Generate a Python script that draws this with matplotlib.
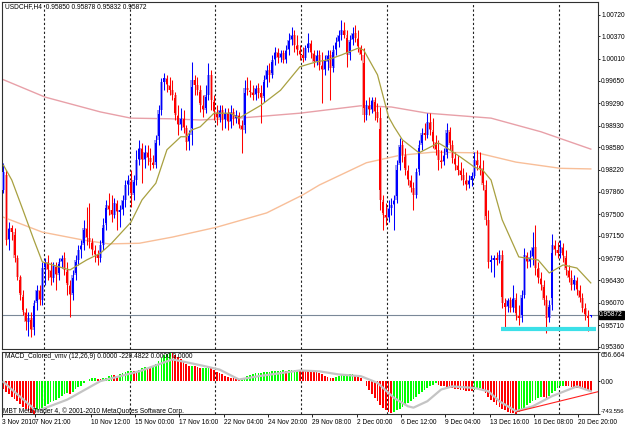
import numpy as np
import matplotlib
matplotlib.use("Agg")
import matplotlib.pyplot as plt
from matplotlib.transforms import blended_transform_factory

plt.rcParams['font.family'] = ['Liberation Sans', 'DejaVu Sans']
FS = 4.8

# ---------------- data ----------------
opens = [0.9789,0.9813,0.9708,0.9728,0.9721,0.9679,0.9648,0.9619,0.9592,0.9576,
0.9582,0.9563,0.9607,0.9628,0.9611,0.9663,0.9673,0.9660,0.9647,0.9666,
0.9652,0.9673,0.9679,0.9660,0.9636,0.9619,0.9652,0.9676,0.9692,0.9700,
0.9728,0.9711,0.9705,0.9692,0.9684,0.9679,0.9700,0.9732,0.9765,0.9757,
0.9749,0.9768,0.9753,0.9757,0.9773,0.9797,0.9805,0.9781,0.9805,0.9837,
0.9857,0.9837,0.9850,0.9841,0.9834,0.9829,0.9870,0.9918,0.9963,0.9970,
0.9958,0.9950,0.9942,0.9910,0.9894,0.9905,0.9889,0.9866,0.9878,0.9967,
0.9958,0.9950,0.9926,0.9918,0.9942,0.9975,0.9934,0.9915,0.9905,0.9918,
0.9902,0.9913,0.9899,0.9915,0.9905,0.9910,0.9894,0.9886,0.9954,0.9950,
0.9947,0.9942,0.9954,0.9946,0.9938,0.9967,0.9983,0.9975,0.9999,1.0012,
1.0002,1.0010,0.9999,1.0015,1.0031,1.0039,1.0023,1.0015,1.0007,1.0002,
1.0018,1.0026,1.0010,0.9996,1.0007,0.9991,0.9983,0.9996,1.0007,0.9986,
1.0015,1.0028,1.0039,1.0047,1.0039,1.0007,1.0031,1.0042,1.0034,1.0020,
1.0007,0.9910,0.9926,0.9918,0.9934,0.9915,0.9905,0.9773,0.9749,0.9744,
0.9760,0.9765,0.9773,0.9829,0.9862,0.9845,0.9821,0.9805,0.9792,0.9781,
0.9818,0.9862,0.9881,0.9878,0.9899,0.9886,0.9866,0.9854,0.9837,0.9834,
0.9845,0.9886,0.9862,0.9841,0.9829,0.9821,0.9813,0.9805,0.9797,0.9805,
0.9812,0.9837,0.9829,0.9824,0.9797,0.9741,0.9673,0.9676,0.9679,0.9676,
0.9684,0.9607,0.9600,0.9611,0.9598,0.9615,0.9587,0.9582,0.9619,0.9684,
0.9673,0.9681,0.9697,0.9663,0.9647,0.9636,0.9611,0.9582,0.9603,0.9700,
0.9692,0.9687,0.9697,0.9682,0.9660,0.9647,0.9636,0.9644,0.9628,0.9615,
0.9598,0.9587,0.95850]

highs = [0.9833,0.9821,0.9737,0.9732,0.9728,0.9684,0.9652,0.9628,0.9598,0.9592,
0.9592,0.9611,0.9636,0.9636,0.9673,0.9679,0.9684,0.9673,0.9673,0.9673,
0.9679,0.9684,0.9689,0.9673,0.9644,0.9660,0.9684,0.9700,0.9708,0.9741,
0.9762,0.9768,0.9711,0.9700,0.9692,0.9708,0.9744,0.9773,0.9784,0.9781,
0.9776,0.9773,0.9765,0.9781,0.9805,0.9813,0.9821,0.9813,0.9854,0.9870,
0.9865,0.9862,0.9862,0.9857,0.9845,0.9878,0.9926,0.9970,0.9978,0.9975,
0.9971,0.9967,0.9947,0.9926,0.9921,0.9918,0.9894,0.9886,0.9996,0.9975,
0.9971,0.9958,0.9942,0.9958,0.9994,0.9983,0.9942,0.9926,0.9926,0.9926,
0.9921,0.9921,0.9926,0.9921,0.9918,0.9915,0.9902,0.9967,0.9971,0.9967,
0.9958,0.9958,0.9962,0.9958,0.9975,0.9991,0.9994,1.0007,1.0020,1.0018,
1.0015,1.0015,1.0023,1.0042,1.0052,1.0047,1.0039,1.0023,1.0020,1.0023,
1.0042,1.0031,1.0015,1.0015,1.0015,1.0012,1.0007,1.0015,1.0015,1.0023,
1.0036,1.0047,1.0063,1.0060,1.0047,1.0039,1.0052,1.0055,1.0047,1.0023,
1.0018,0.9934,0.9939,0.9939,0.9939,0.9929,0.9923,0.9781,0.9768,0.9773,
0.9776,0.9781,0.9837,0.9873,0.9870,0.9857,0.9829,0.9813,0.9802,0.9824,
0.9870,0.9889,0.9897,0.9913,0.9913,0.9905,0.9878,0.9870,0.9854,0.9857,
0.9897,0.9891,0.9870,0.9850,0.9845,0.9834,0.9824,0.9818,0.9813,0.9818,
0.9850,0.9854,0.9850,0.9837,0.9805,0.9757,0.9684,0.9684,0.9689,0.9692,
0.9692,0.9615,0.9615,0.9616,0.9636,0.9623,0.9603,0.9628,0.9695,0.9689,
0.9692,0.9721,0.9732,0.9673,0.9657,0.9644,0.9619,0.9611,0.9718,0.9708,
0.9705,0.9708,0.9703,0.9692,0.9668,0.9660,0.9652,0.9648,0.9636,0.9623,
0.9607,0.9595,0.95878]

lows = [0.9784,0.9700,0.9692,0.9708,0.9673,0.9644,0.9611,0.9587,0.9563,0.9553,
0.9552,0.9555,0.9595,0.9603,0.9603,0.9636,0.9644,0.9636,0.9640,0.9628,
0.9644,0.9663,0.9652,0.9619,0.9584,0.9611,0.9644,0.9668,0.9679,0.9692,
0.9700,0.9695,0.9684,0.9673,0.9668,0.9673,0.9692,0.9724,0.9749,0.9737,
0.9744,0.9724,0.9729,0.9749,0.9762,0.9781,0.9762,0.9773,0.9797,0.9829,
0.9800,0.9824,0.9829,0.9821,0.9824,0.9824,0.9862,0.9910,0.9950,0.9947,
0.9942,0.9934,0.9902,0.9878,0.9886,0.9881,0.9854,0.9854,0.9862,0.9942,
0.9942,0.9915,0.9907,0.9913,0.9934,0.9918,0.9902,0.9894,0.9899,0.9886,
0.9889,0.9886,0.9889,0.9894,0.9897,0.9889,0.9849,0.9881,0.9942,0.9939,
0.9934,0.9934,0.9938,0.9897,0.9931,0.9955,0.9963,0.9970,0.9991,0.9994,
0.9996,0.9994,0.9994,1.0007,1.0023,1.0012,1.0007,0.9999,0.9996,0.9999,
1.0012,1.0002,0.9988,0.9991,0.9983,0.9929,0.9975,0.9983,0.9934,0.9979,
1.0007,1.0020,1.0031,1.0034,0.9988,0.9999,1.0023,1.0028,1.0012,0.9999,
0.9899,0.9902,0.9910,0.9913,0.9902,0.9899,0.9757,0.9724,0.9732,0.9737,
0.9749,0.9724,0.9768,0.9821,0.9834,0.9813,0.9797,0.9786,0.9757,0.9776,
0.9813,0.9854,0.9870,0.9873,0.9878,0.9857,0.9845,0.9821,0.9824,0.9829,
0.9841,0.9854,0.9833,0.9821,0.9813,0.9805,0.9797,0.9789,0.9792,0.9795,
0.9808,0.9821,0.9813,0.9789,0.9732,0.9663,0.9657,0.9648,0.9668,0.9671,
0.9598,0.9563,0.9592,0.9592,0.9592,0.9579,0.9571,0.9576,0.9615,0.9663,
0.9665,0.9668,0.9652,0.9639,0.9628,0.9603,0.9558,0.9576,0.9595,0.9684,
0.9679,0.9679,0.9673,0.9652,0.9640,0.9628,0.9628,0.9619,0.9608,0.9592,
0.9579,0.9561,0.95832]

closes = [0.9818,0.9708,0.9728,0.9721,0.9679,0.9648,0.9619,0.9592,0.9576,0.9582,
0.9563,0.9607,0.9628,0.9611,0.9663,0.9673,0.9660,0.9647,0.9666,0.9652,
0.9673,0.9679,0.9660,0.9636,0.9619,0.9652,0.9676,0.9692,0.9700,0.9728,
0.9711,0.9705,0.9692,0.9684,0.9679,0.9700,0.9732,0.9765,0.9757,0.9749,
0.9768,0.9753,0.9757,0.9773,0.9797,0.9805,0.9781,0.9805,0.9837,0.9857,
0.9837,0.9850,0.9841,0.9834,0.9829,0.9870,0.9918,0.9963,0.9970,0.9958,
0.9950,0.9942,0.9910,0.9894,0.9905,0.9889,0.9866,0.9878,0.9967,0.9958,
0.9950,0.9926,0.9918,0.9942,0.9975,0.9934,0.9915,0.9905,0.9918,0.9902,
0.9913,0.9899,0.9915,0.9905,0.9910,0.9894,0.9886,0.9954,0.9950,0.9947,
0.9942,0.9954,0.9946,0.9938,0.9967,0.9983,0.9975,0.9999,1.0012,1.0002,
1.0010,0.9999,1.0015,1.0031,1.0039,1.0023,1.0015,1.0007,1.0002,1.0018,
1.0026,1.0010,0.9996,1.0007,0.9991,0.9983,0.9999,1.0007,0.9986,1.0015,
1.0028,1.0039,1.0047,1.0039,1.0007,1.0031,1.0042,1.0034,1.0020,1.0007,
0.9910,0.9926,0.9918,0.9934,0.9915,0.9905,0.9773,0.9749,0.9744,0.9760,
0.9765,0.9773,0.9829,0.9862,0.9845,0.9821,0.9805,0.9792,0.9781,0.9818,
0.9862,0.9881,0.9878,0.9899,0.9886,0.9866,0.9854,0.9837,0.9834,0.9845,
0.9886,0.9862,0.9841,0.9829,0.9821,0.9813,0.9805,0.9797,0.9805,0.9812,
0.9837,0.9829,0.9824,0.9797,0.9741,0.9673,0.9676,0.9679,0.9676,0.9684,
0.9607,0.9600,0.9611,0.9598,0.9615,0.9587,0.9582,0.9619,0.9684,0.9673,
0.9681,0.9697,0.9663,0.9647,0.9636,0.9611,0.9582,0.9603,0.9700,0.9692,
0.9687,0.9697,0.9682,0.9660,0.9647,0.9636,0.9644,0.9628,0.9615,0.9598,
0.9587,0.9582,0.95872]

# moving averages, read at sample bars
ma_fast_bar = [0,3,7,11,14,20,24,30,35,39,46,50,55,59,64,66,68,71,76,82,85,93,100,107,113,117,122,128,130,
               135,139,141,144,150,157,160,165,170,173,176,180,186,193,197,202,207,212]
ma_fast_val = [0.9829,0.9805,0.9757,0.9708,0.9673,0.9665,0.9660,0.9676,0.9687,0.9703,0.9737,0.9773,0.9800,
               0.9854,0.9875,0.9875,0.9886,0.9891,0.9913,0.9913,0.9905,0.9926,0.9950,0.9988,0.9996,0.9999,
               1.0007,1.0018,1.0015,0.9975,0.9907,0.9891,0.9870,0.9849,0.9865,0.9857,0.9842,0.9826,0.9821,
               0.9805,0.9741,0.9681,0.9676,0.9655,0.9668,0.9663,0.9639]
ma_mid_bar = [0,14,29,38,49,61,77,95,108,114,131,143,155,171,185,201,212]
ma_mid_val = [0.9745,0.9721,0.9708,0.9702,0.9703,0.9713,0.9729,0.9752,0.9781,0.9797,0.9833,0.9845,0.9850,
              0.9849,0.9834,0.9824,0.9823]
ma_slow_bar = [0,15,35,46,60,71,85,107,129,140,153,176,194,212]
ma_slow_val = [0.9967,0.9939,0.9915,0.9905,0.9904,0.9902,0.9905,0.9913,0.9925,0.9923,0.9913,0.9905,0.9883,0.9855]

macd_hist = [
-190,-240,-300,-350,-400,-450,-520,-580,-630,-680,
-720,-740,-690,-640,-600,-560,-520,-480,-450,-420,
-380,-340,-300,-270,-290,-240,-190,-140,-100,-50,
10,40,60,70,55,40,60,80,110,140,
130,120,150,180,200,220,230,220,215,250,
290,320,300,290,330,380,450,520,580,620,
650,640,600,550,500,440,380,340,350,330,
310,290,295,300,310,290,250,210,180,150,
120,100,80,60,40,30,50,80,110,140,
160,175,185,190,200,210,215,220,225,230,
235,240,230,240,250,255,260,255,250,240,
235,230,220,200,180,150,120,100,80,70,
90,110,130,140,145,150,155,130,110,60,
0,-100,-200,-300,-380,-450,-530,-600,-650,-690,
-720,-700,-660,-620,-580,-540,-500,-450,-400,-350,
-300,-250,-200,-160,-120,-80,-40,-90,-110,-120,
-125,-140,-160,-180,-190,-200,-210,-220,-225,-230,
-200,-180,-160,-200,-270,-350,-420,-480,-540,-590,
-630,-660,-690,-710,-730,-740,-700,-650,-600,-550,
-500,-460,-420,-380,-350,-360,-380,-330,-270,-220,
-160,-120,-110,-115,-120,-130,-140,-150,-160,-170,
-175,-195,-220]
signal_bar = [0,3,12,23,35,49,61,71,78,85,92,107,114,121,129,135,141,146,148,153,158,162,170,175,179,185,191,198,207,212]
signal_val = [-20,-190,-680,-420,0,220,490,360,260,35,110,240,220,150,110,-40,-380,-570,-600,-455,-190,-120,
              -155,-230,-455,-680,-570,-340,-120,-230]
trend_bar = [185.4, 214.6]
trend_val = [-690, -240]

price_ticks = [1.0072,1.0037,1.0001,0.9965,0.9929,0.9893,0.9858,0.9822,0.9786,0.9750,0.9715,0.9679,
               0.9643,0.9607,0.9571,0.9536]
macd_ticks = [656.664, 0.0, -743.556]
macd_tick_labels = ['656.664', '0.00', '-743.556']
date_bar = [0,12,32,48,64,80,96,112,128,144,160,176,192,208]
date_labels = ['3 Nov 2010','7 Nov 21:00','10 Nov 12:00','15 Nov 00:00','17 Nov 16:00','22 Nov 04:00',
               '24 Nov 20:00','29 Nov 08:00','2 Dec 00:00','6 Dec 12:00','9 Dec 04:00','13 Dec 16:00',
               '16 Dec 08:00','20 Dec 20:00']
week_start_bar = [15,46,77,108,139,170,201]
support_level = 0.9564
support_span = [179.5, 213.8]
last_price = 0.95872
title = 'USDCHF,H4  0.95850 0.95878 0.95832 0.95872'
macd_title = 'MACD_Colored_vmv (12,26,9) 0.0000 -220.4822 0.0000 0.0000'
copyright_txt = 'MBT MetaTrader 4, \u00a9 2001-2010 MetaQuotes Software Corp.'

# ---------------- figure ----------------
W, H = 625, 430
fig = plt.figure(figsize=(W/100, H/100), dpi=100)
fig.patch.set_facecolor('white')

def rect(x0, y0, x1, y1):
    return [x0/W, 1 - y1/H, (x1-x0)/W, (y1-y0)/H]

ax = fig.add_axes(rect(2, 2, 598, 349))
ax2 = fig.add_axes(rect(2, 352, 598, 414), sharex=ax)

o = np.array(opens); h = np.array(highs); l = np.array(lows); c = np.array(closes)
idx = np.arange(len(o))
bull = c >= o
sat = np.where(bull, '#0000FF', '#FF0000')
pale = np.where(bull, '#9C9CF4', '#F2A2A2')
body_lo = np.minimum(o, c)
body_h = np.maximum(np.abs(c - o), 0.00006)

ax.bar(idx, body_h, bottom=body_lo, width=1.0, color=pale, linewidth=0, zorder=3)
ax.vlines(idx, l, h, colors=sat, linewidth=0.75, zorder=4)
ax.bar(idx, body_h * 0.75, bottom=body_lo + body_h * 0.12, width=0.55, color=sat, linewidth=0, zorder=4)

ax.plot(ma_slow_bar, ma_slow_val, color='#E8A0A8', lw=1.0, zorder=2)
ax.plot(ma_mid_bar, ma_mid_val, color='#F8BE98', lw=1.0, zorder=2)
ax.plot(ma_fast_bar, ma_fast_val, color='#A8A040', lw=0.9, zorder=5)

for w in week_start_bar:
    ax.axvline(w - 0.5, color='#202020', lw=0.8, ls=(0, (2, 2)), zorder=1)
    ax2.axvline(w - 0.5, color='#202020', lw=0.8, ls=(0, (2, 2)), zorder=1)

ax.axhline(last_price, color='#7A8898', lw=0.8, zorder=1)
ax.hlines(support_level, support_span[0], support_span[1], colors='#3CE0E8', lw=3, zorder=6)

ax.set_xlim(-0.54, 214.6)
ax.set_ylim(0.95323, 1.00925)
ax.yaxis.tick_right()
ax.set_yticks(price_ticks)
ax.set_yticklabels(['%.5f' % v for v in price_ticks])
ax.tick_params(axis='y', direction='out', length=1.5, width=0.6, pad=0.8, labelsize=FS, colors='black')
ax.tick_params(axis='x', length=0, labelbottom=False)

tr = blended_transform_factory(ax.transAxes, ax.transData)
ax.text(1.002, last_price, '0.95872', transform=tr, ha='left', va='center', color='white',
        fontsize=FS, zorder=10, clip_on=False,
        bbox=dict(facecolor='black', edgecolor='black', pad=0.5))

# MACD
hist = np.array(macd_hist, dtype=float)
prev = np.concatenate([[hist[0] + 1], hist[:-1]])
hcol = np.where(hist >= prev, '#00FF00', '#FF0000')
ax2.bar(idx, hist, width=0.62, color=hcol, linewidth=0, zorder=2)
ax2.plot(signal_bar, signal_val, color='#C4C4C4', lw=1.6, zorder=3)
ax2.plot(trend_bar, trend_val, color='#FF2020', lw=0.8, zorder=4)
ax2.set_ylim(-743.556, 656.664)
ax2.yaxis.tick_right()
ax2.set_yticks(macd_ticks)
ax2.set_yticklabels(macd_tick_labels)
ax2.tick_params(axis='y', direction='out', length=1.5, width=0.6, pad=0.6, labelsize=FS)
tl = ax2.get_yticklabels()
tl[0].set_va('top'); tl[2].set_va('bottom')
tl[2].set_fontsize(4.3)

ax2.set_xticks(np.array(date_bar) - 0.5)
ax2.set_xticklabels(date_labels)
ax2.tick_params(axis='x', direction='out', length=2, width=0.6, pad=1.5, labelsize=FS)
for t in ax2.get_xticklabels():
    t.set_ha('left')

for a in (ax, ax2):
    for s in a.spines.values():
        s.set_color('#303030'); s.set_linewidth(0.8)
    a.set_facecolor('white')

fig.text(5/W, 1 - 7/H, title, ha='left', va='center', fontsize=FS)
fig.text(5/W, 1 - 357/H, macd_title, ha='left', va='center', fontsize=FS)
fig.text(3/W, 1 - 411/H, copyright_txt, ha='left', va='center', fontsize=FS)

fig.savefig('out.png', dpi=100, facecolor='white')
